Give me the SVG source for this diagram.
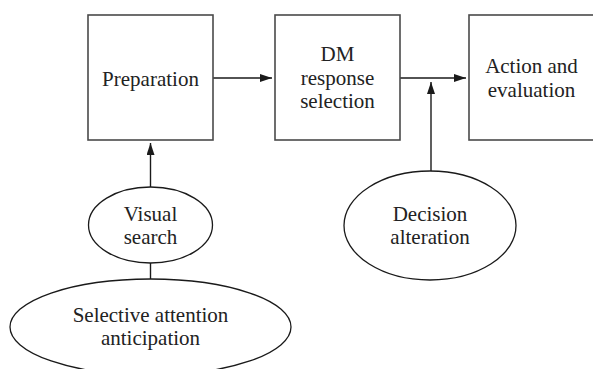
<svg xmlns="http://www.w3.org/2000/svg" width="593" height="369" viewBox="0 0 593 369">
<defs>
<marker id="ah" viewBox="0 0 12 8" refX="12" refY="4" markerWidth="12" markerHeight="8" markerUnits="userSpaceOnUse" orient="auto">
<path d="M0,0 L12,4 L0,8 Z" fill="#1a1a1a"/>
</marker>
<style>
.box{fill:#fff;stroke:#4a4a4a;stroke-width:1.6}
.ell{fill:#fff;stroke:#1a1a1a;stroke-width:1.3}
.t{font-family:"Liberation Serif","Times New Roman",serif;font-size:21px;fill:#222;text-anchor:middle}
.c{stroke:#1a1a1a;stroke-width:1.4;fill:none}
</style>
</defs>
<rect width="593" height="369" fill="#fff"/>
<g id="connectors">
<line class="c" x1="213" y1="78" x2="272" y2="78" marker-end="url(#ah)"/>
<line class="c" x1="400" y1="78" x2="466" y2="78" marker-end="url(#ah)"/>
<line class="c" x1="431" y1="171" x2="431" y2="82" marker-end="url(#ah)"/>
<line class="c" x1="150.5" y1="187" x2="150.5" y2="143" marker-end="url(#ah)"/>
<line class="c" x1="150.5" y1="263" x2="150.5" y2="279"/>
</g>
<g id="preparation">
<rect class="box" x="88" y="15" width="125" height="125"/>
<text class="t" x="150.5" y="85.5">Preparation</text>
</g>
<g id="dm">
<rect class="box" x="275" y="15" width="125" height="125"/>
<text class="t" x="337.5" y="61">DM</text>
<text class="t" x="337.5" y="84.5">response</text>
<text class="t" x="337.5" y="108">selection</text>
</g>
<g id="action">
<rect class="box" x="469" y="15" width="126" height="125"/>
<text class="t" x="531.5" y="72.5">Action and</text>
<text class="t" x="531.5" y="96.5">evaluation</text>
</g>
<g id="visual">
<ellipse class="ell" cx="150.5" cy="225" rx="62" ry="38"/>
<text class="t" x="150.5" y="220.5">Visual</text>
<text class="t" x="150.5" y="244">search</text>
</g>
<g id="decision">
<ellipse class="ell" cx="430" cy="225.5" rx="86" ry="54.5"/>
<text class="t" x="430" y="220.5">Decision</text>
<text class="t" x="430" y="243.5">alteration</text>
</g>
<g id="selective">
<ellipse class="ell" cx="150.5" cy="327" rx="140.5" ry="48"/>
<text class="t" x="150.5" y="322">Selective attention</text>
<text class="t" x="150.5" y="345">anticipation</text>
</g>
</svg>
